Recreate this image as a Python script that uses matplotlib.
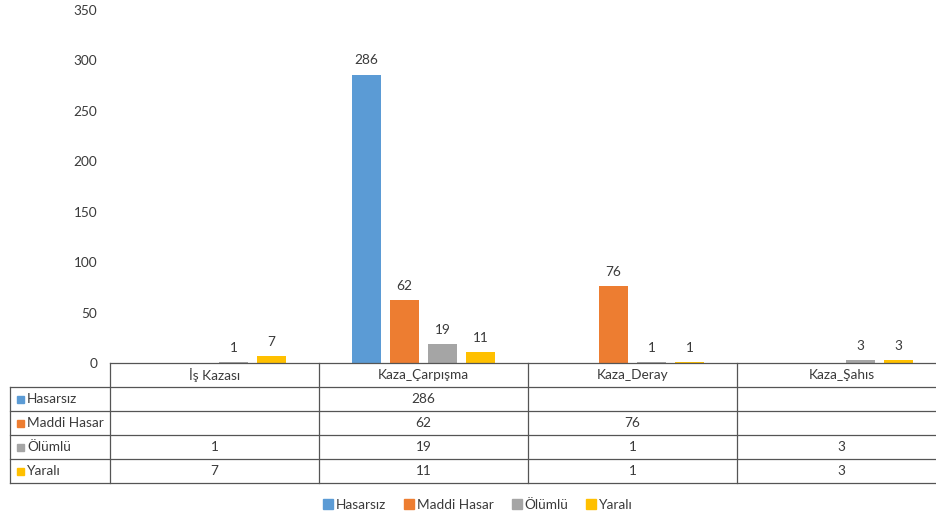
import numpy as np
import matplotlib
matplotlib.use('Agg')
import matplotlib.pyplot as plt
from matplotlib.lines import Line2D

plt.rcParams['font.family'] = ['Lato', 'DejaVu Sans']

# kaza turleri ve hasar siniflari
categories = ['İş Kazası', 'Kaza_Çarpışma', 'Kaza_Deray', 'Kaza_Şahıs']
series_names = ['Hasarsız', 'Maddi Hasar', 'Ölümlü', 'Yaralı']
hasarsiz = [None, 286, None, None]
maddi_hasar = [None, 62, 76, None]
olumlu = [1, 19, 1, 3]
yarali = [7, 11, 1, 3]
y_ticks = [0, 50, 100, 150, 200, 250, 300, 350]

series_values = [hasarsiz, maddi_hasar, olumlu, yarali]
colors = ['#5B9BD5', '#ED7D31', '#A5A5A5', '#FFC000']
text_color = '#3a3a3a'
line_color = '#555555'

W, H = 936, 521
fig = plt.figure(figsize=(W / 100, H / 100), dpi=100)

# cizim alani: sol 110px, ust 10px, sifir cizgisi 363px
ax_left, ax_top, ax_zero, ax_right = 110, 10, 363, 946
ax = fig.add_axes([ax_left / W, 1 - ax_zero / H,
                   (ax_right - ax_left) / W, (ax_zero - ax_top) / H])
ax.set_xlim(-0.5, len(categories) - 0.5)
ax.set_ylim(0, 350)
ax.set_yticks(y_ticks)
ax.tick_params(axis='y', length=0, pad=9, labelsize=9.8, labelcolor=text_color)
ax.set_xticks([])
for s in ax.spines.values():
    s.set_visible(False)

x = np.arange(len(categories))
bar_w = 0.139
step = 0.182
for i, (vals, col) in enumerate(zip(series_values, colors)):
    offs = (i - 1.5) * step
    for j, v in enumerate(vals):
        if v is None:
            continue
        ax.bar(x[j] + offs, v, width=bar_w, color=col, zorder=2)
        ax.annotate(str(v), (x[j] + offs, v), xytext=(0, 6),
                    textcoords='offset points', ha='center', va='bottom',
                    fontsize=9.8, color=text_color)

# veri tablosu (piksel koordinatlari)
def fx(px):
    return px / W

def fy(py):
    return 1 - py / H

row_h = 24
tab_left = 10
col_w = (ax_right - ax_left) / len(categories)
n_rows = len(series_names)
tab_bottom = ax_zero + row_h * (n_rows + 1)

def hline(y, x0, x1):
    fig.add_artist(Line2D([fx(x0), fx(x1)], [fy(y), fy(y)], color=line_color,
                          lw=0.9, transform=fig.transFigure))

def vline(x0, y0, y1):
    fig.add_artist(Line2D([fx(x0), fx(x0)], [fy(y0), fy(y1)], color=line_color,
                          lw=0.9, transform=fig.transFigure))

hline(ax_zero, ax_left, ax_right)
for r in range(1, n_rows + 2):
    hline(ax_zero + r * row_h, tab_left, ax_right)
vline(tab_left, ax_zero + row_h, tab_bottom)
for c in range(len(categories) + 1):
    vline(ax_left + c * col_w, ax_zero, tab_bottom)

for c, cat in enumerate(categories):
    fig.text(fx(ax_left + (c + 0.5) * col_w), fy(ax_zero + row_h / 2), cat,
             ha='center', va='center', fontsize=9.8, color=text_color)

for r, (name, vals, col) in enumerate(zip(series_names, series_values, colors)):
    yc = ax_zero + (r + 1.5) * row_h
    fig.patches.append(plt.Rectangle((fx(17), fy(yc + 3.5)), 7 / W, 7 / H,
                                     color=col, transform=fig.transFigure))
    fig.text(fx(27), fy(yc), name, ha='left', va='center', fontsize=9.8,
             color=text_color)
    for c, v in enumerate(vals):
        if v is None:
            continue
        fig.text(fx(ax_left + (c + 0.5) * col_w), fy(yc), str(v),
                 ha='center', va='center', fontsize=9.8, color=text_color)

# alt lejant
handles = [Line2D([], [], marker='s', linestyle='none', markersize=6.5,
                  markerfacecolor=c, markeredgecolor=c) for c in colors]
fig.legend(handles, series_names, loc='center', ncol=4,
           bbox_to_anchor=(fx(477), fy(505)), frameon=False, fontsize=9.8,
           handletextpad=0.05, columnspacing=1.2, labelcolor=text_color,
           handlelength=1.0)

fig.savefig('out.png', dpi=100)
